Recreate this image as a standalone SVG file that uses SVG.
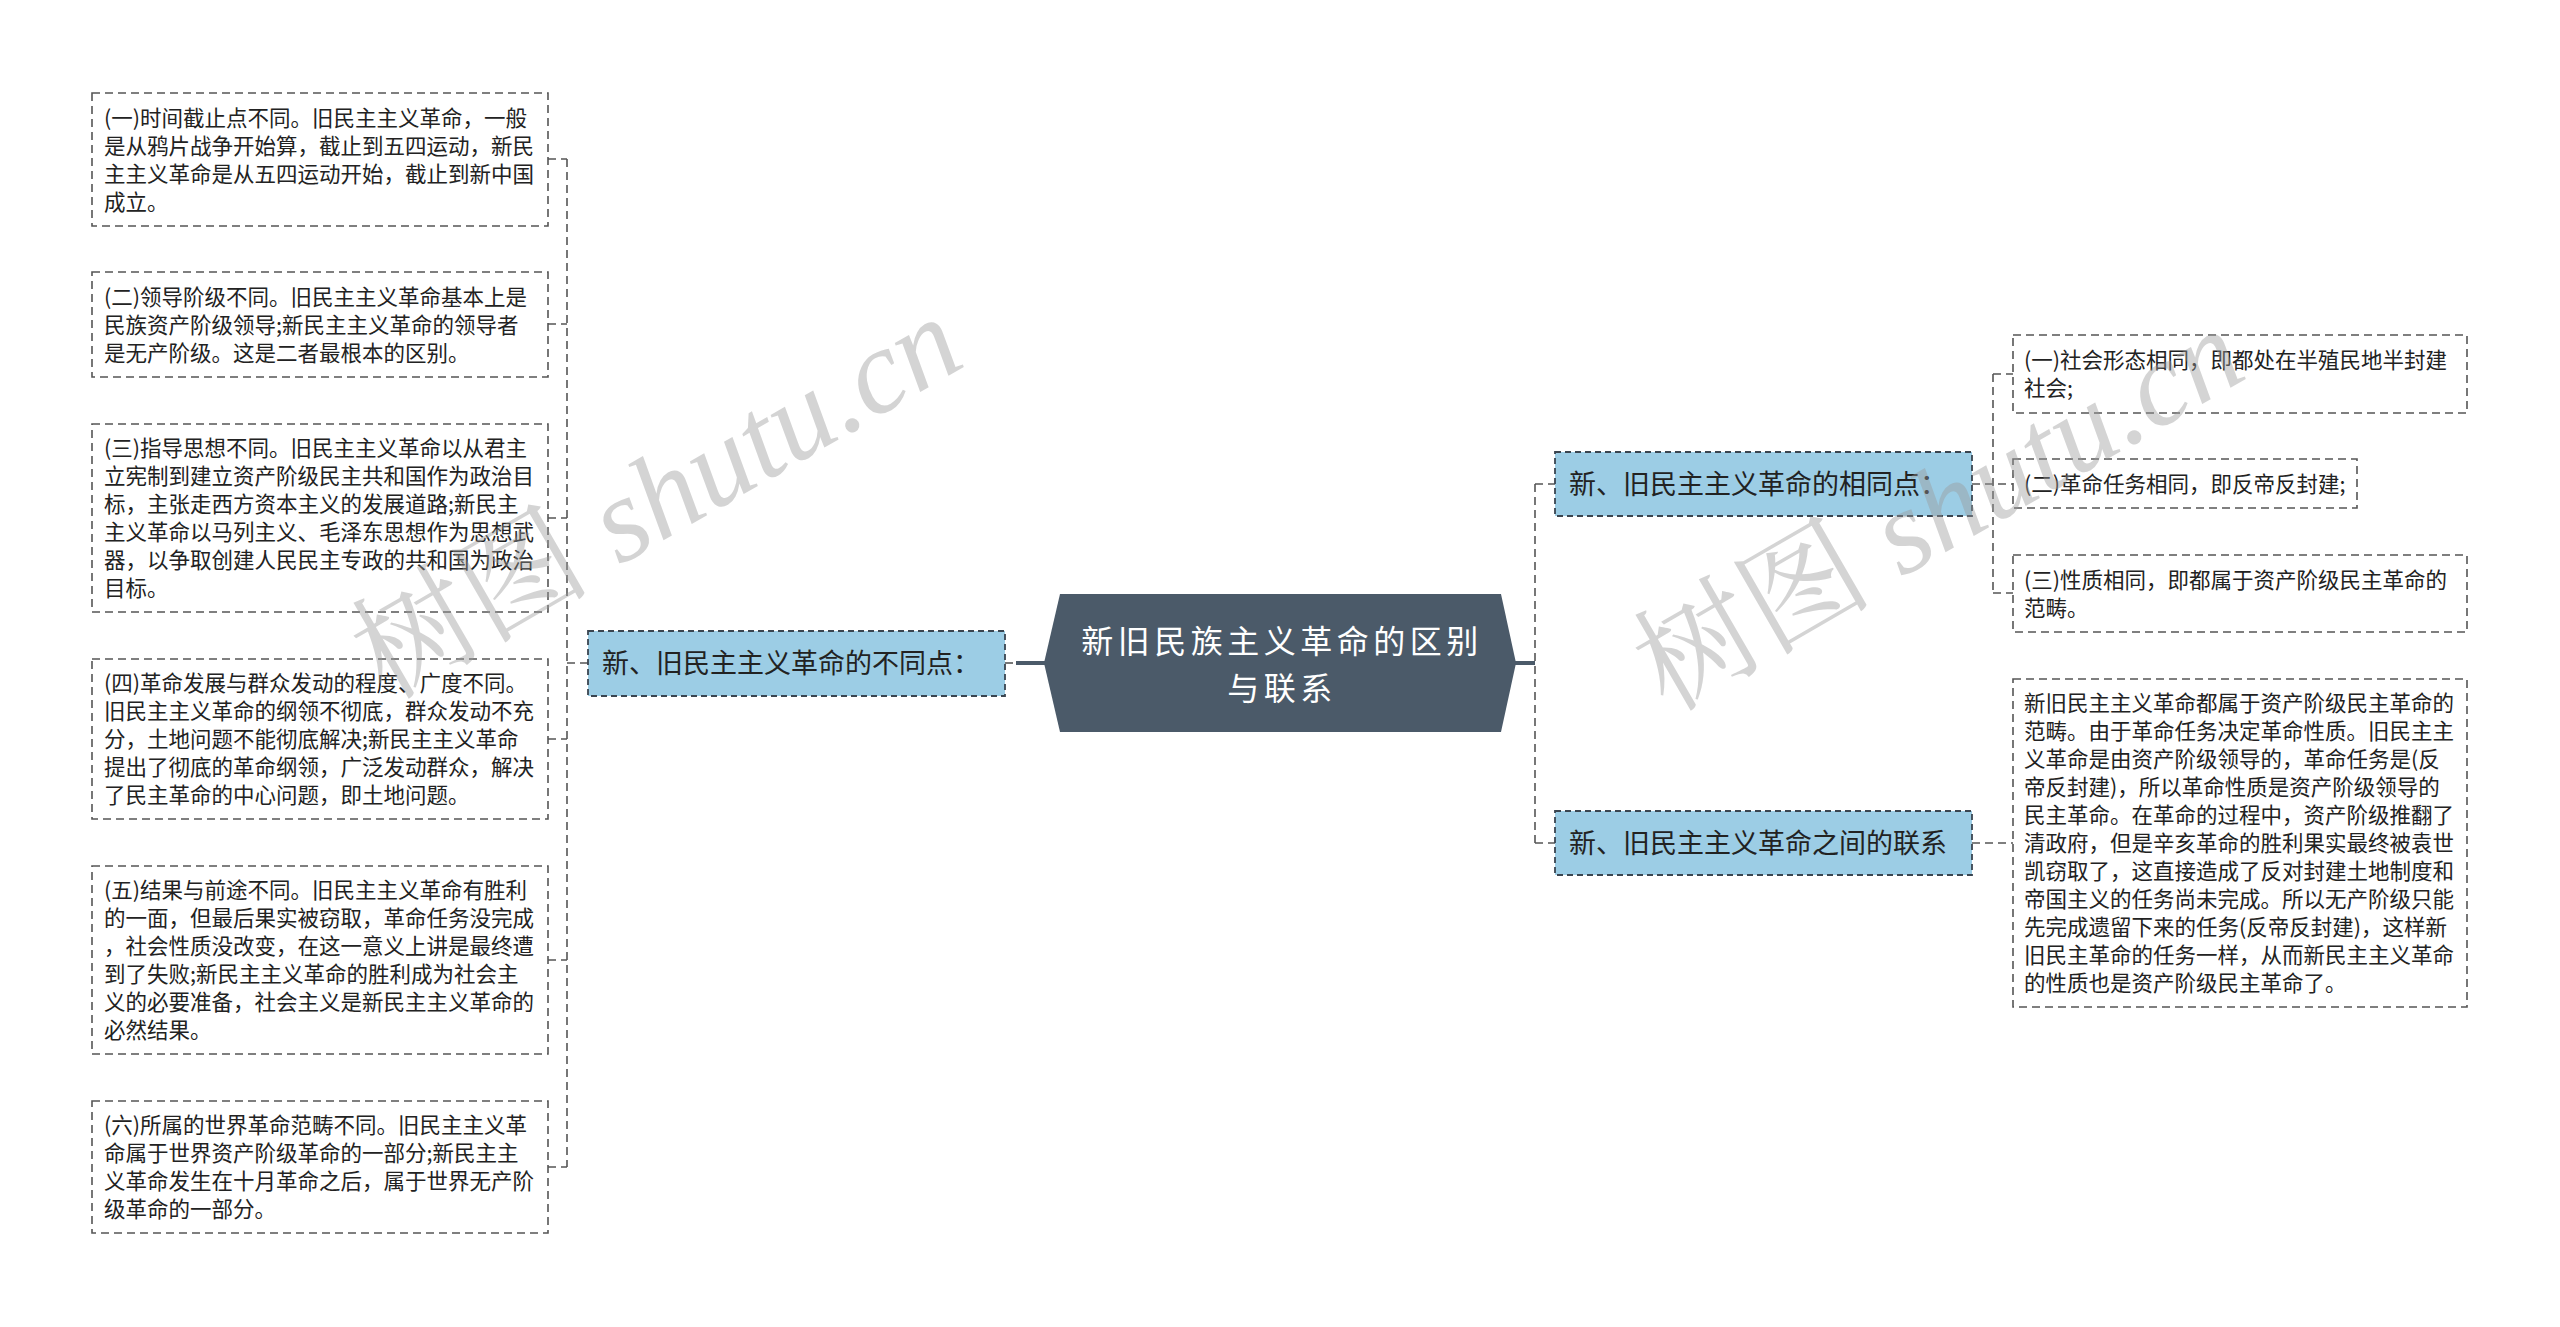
<svg xmlns="http://www.w3.org/2000/svg" width="2560" height="1327" viewBox="0 0 2560 1327">
<style>
.leaf{fill:#ffffff;stroke:#555555;stroke-width:1.6;stroke-dasharray:8 5}
.branch{fill:#9ccde5;stroke:#3a4550;stroke-width:1.8;stroke-dasharray:6 4}
.lt{font-family:"Noto Sans CJK SC","Noto Sans",sans-serif;font-size:21.5px;fill:#222222}
.bt{font-family:"Noto Sans CJK SC","Noto Sans",sans-serif;font-size:27px;fill:#222222}
.ct{font-family:"Noto Sans CJK SC","Noto Sans",sans-serif;font-size:32px;letter-spacing:4.5px;fill:#ffffff;text-anchor:middle}
.dash{fill:none;stroke:#555555;stroke-width:1.6;stroke-dasharray:8 5}
.solid{fill:none;stroke:#4b5a69;stroke-width:4}
.wm{font-family:"Liberation Serif","Noto Serif CJK SC","Noto Sans CJK SC",serif;font-size:120px;fill:#9a9a9a;opacity:0.42;text-anchor:middle}
</style>
<rect width="2560" height="1327" fill="#ffffff"/>
<g id="connectors">
<path class="dash" d="M567 159V1167M548 159H567M548 324H567M548 518H567M548 739H567M548 960H567M548 1167H567M567 663H588"/>
<path class="dash" d="M1005 663H1016"/>
<path class="solid" d="M1016 663H1046"/>
<path class="solid" d="M1514 663H1535"/>
<path class="dash" d="M1535 484V843M1535 484H1555M1535 843H1555"/>
<path class="dash" d="M1993 374V593M1972 484H2013M1993 374H2013M1993 593H2013"/>
<path class="dash" d="M1972 843H2013"/>
</g>
<g id="center">
<polygon points="1060,594 1501,594 1516,663 1501,732 1060,732 1044,663" fill="#4b5a69"/>
<text class="ct" x="1282" y="653">新旧民族主义革命的区别</text>
<text class="ct" x="1282" y="700">与联系</text>
</g>
<g id="branch-diff">
<rect class="branch" x="588" y="631" width="417" height="65"/>
<text class="bt" x="602" y="673">新、旧民主主义革命的不同点：</text>
</g>
<g id="branch-same">
<rect class="branch" x="1555" y="452" width="417" height="64"/>
<text class="bt" x="1569" y="494">新、旧民主主义革命的相同点：</text>
</g>
<g id="branch-link">
<rect class="branch" x="1555" y="811" width="417" height="64"/>
<text class="bt" x="1569" y="853">新、旧民主主义革命之间的联系</text>
</g>
<g id="leaf-1">
<rect class="leaf" x="92" y="93" width="456" height="133"/>
<text class="lt"><tspan x="104" y="126">(一)时间截止点不同。旧民主主义革命，一般</tspan><tspan x="104" y="154">是从鸦片战争开始算，截止到五四运动，新民</tspan><tspan x="104" y="182">主主义革命是从五四运动开始，截止到新中国</tspan><tspan x="104" y="210">成立。</tspan></text>
</g>
<g id="leaf-2">
<rect class="leaf" x="92" y="272" width="456" height="105"/>
<text class="lt"><tspan x="104" y="305">(二)领导阶级不同。旧民主主义革命基本上是</tspan><tspan x="104" y="333">民族资产阶级领导;新民主主义革命的领导者</tspan><tspan x="104" y="361">是无产阶级。这是二者最根本的区别。</tspan></text>
</g>
<g id="leaf-3">
<rect class="leaf" x="92" y="424" width="456" height="188"/>
<text class="lt"><tspan x="104" y="456">(三)指导思想不同。旧民主主义革命以从君主</tspan><tspan x="104" y="484">立宪制到建立资产阶级民主共和国作为政治目</tspan><tspan x="104" y="512">标，主张走西方资本主义的发展道路;新民主</tspan><tspan x="104" y="540">主义革命以马列主义、毛泽东思想作为思想武</tspan><tspan x="104" y="568">器，以争取创建人民民主专政的共和国为政治</tspan><tspan x="104" y="596">目标。</tspan></text>
</g>
<g id="leaf-4">
<rect class="leaf" x="92" y="659" width="456" height="160"/>
<text class="lt"><tspan x="104" y="691">(四)革命发展与群众发动的程度、广度不同。</tspan><tspan x="104" y="719">旧民主主义革命的纲领不彻底，群众发动不充</tspan><tspan x="104" y="747">分，土地问题不能彻底解决;新民主主义革命</tspan><tspan x="104" y="775">提出了彻底的革命纲领，广泛发动群众，解决</tspan><tspan x="104" y="803">了民主革命的中心问题，即土地问题。</tspan></text>
</g>
<g id="leaf-5">
<rect class="leaf" x="92" y="866" width="456" height="188"/>
<text class="lt"><tspan x="104" y="898">(五)结果与前途不同。旧民主主义革命有胜利</tspan><tspan x="104" y="926">的一面，但最后果实被窃取，革命任务没完成</tspan><tspan x="104" y="954">，社会性质没改变，在这一意义上讲是最终遭</tspan><tspan x="104" y="982">到了失败;新民主主义革命的胜利成为社会主</tspan><tspan x="104" y="1010">义的必要准备，社会主义是新民主主义革命的</tspan><tspan x="104" y="1038">必然结果。</tspan></text>
</g>
<g id="leaf-6">
<rect class="leaf" x="92" y="1101" width="456" height="132"/>
<text class="lt"><tspan x="104" y="1133">(六)所属的世界革命范畴不同。旧民主主义革</tspan><tspan x="104" y="1161">命属于世界资产阶级革命的一部分;新民主主</tspan><tspan x="104" y="1189">义革命发生在十月革命之后，属于世界无产阶</tspan><tspan x="104" y="1217">级革命的一部分。</tspan></text>
</g>
<g id="leaf-r1">
<rect class="leaf" x="2013" y="335" width="454" height="78"/>
<text class="lt"><tspan x="2024" y="368">(一)社会形态相同，即都处在半殖民地半封建</tspan><tspan x="2024" y="396">社会;</tspan></text>
</g>
<g id="leaf-r2">
<rect class="leaf" x="2013" y="459" width="344" height="49"/>
<text class="lt" x="2024" y="492">(二)革命任务相同，即反帝反封建;</text>
</g>
<g id="leaf-r3">
<rect class="leaf" x="2013" y="555" width="454" height="77"/>
<text class="lt"><tspan x="2024" y="588">(三)性质相同，即都属于资产阶级民主革命的</tspan><tspan x="2024" y="616">范畴。</tspan></text>
</g>
<g id="leaf-r4">
<rect class="leaf" x="2013" y="679" width="454" height="328"/>
<text class="lt"><tspan x="2024" y="711">新旧民主主义革命都属于资产阶级民主革命的</tspan><tspan x="2024" y="739">范畴。由于革命任务决定革命性质。旧民主主</tspan><tspan x="2024" y="767">义革命是由资产阶级领导的，革命任务是(反</tspan><tspan x="2024" y="795">帝反封建)，所以革命性质是资产阶级领导的</tspan><tspan x="2024" y="823">民主革命。在革命的过程中，资产阶级推翻了</tspan><tspan x="2024" y="851">清政府，但是辛亥革命的胜利果实最终被袁世</tspan><tspan x="2024" y="879">凯窃取了，这直接造成了反对封建土地制度和</tspan><tspan x="2024" y="907">帝国主义的任务尚未完成。所以无产阶级只能</tspan><tspan x="2024" y="935">先完成遗留下来的任务(反帝反封建)，这样新</tspan><tspan x="2024" y="963">旧民主革命的任务一样，从而新民主主义革命</tspan><tspan x="2024" y="991">的性质也是资产阶级民主革命了。</tspan></text>
</g>
<g id="watermark">
<text class="wm" x="657" y="538" transform="rotate(-30 657 498)">树图 <tspan font-style="italic">shutu.cn</tspan></text>
<text class="wm" x="1939" y="550" transform="rotate(-30 1939 510)">树图 <tspan font-style="italic">shutu.cn</tspan></text>
</g>
</svg>
